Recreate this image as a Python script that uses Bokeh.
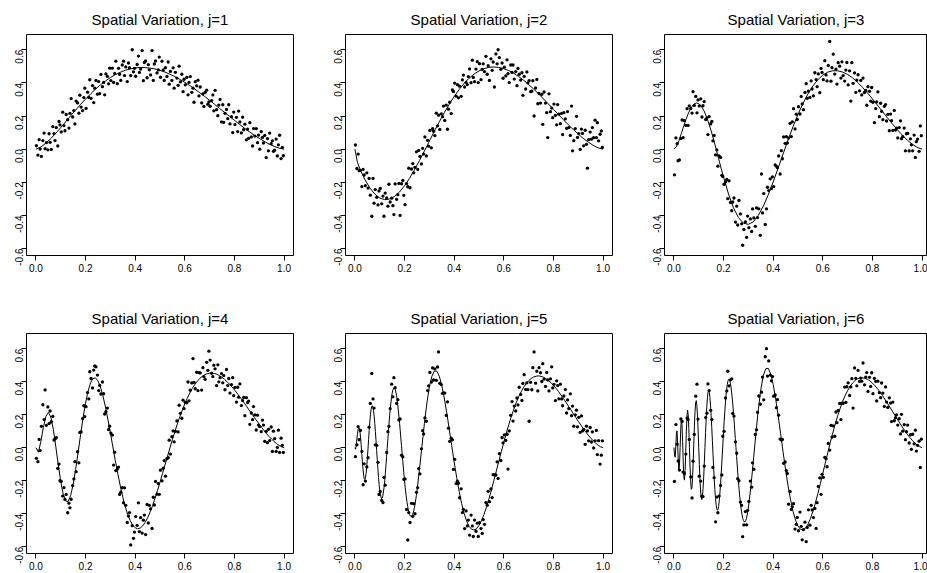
import math
from bokeh.plotting import figure
from bokeh.layouts import row, column
from bokeh.models import FixedTicker, PrintfTickFormatter, Range1d
from bokeh.embed import file_html
from bokeh.resources import INLINE

TITLES = ["Spatial Variation, j=1", "Spatial Variation, j=2", "Spatial Variation, j=3",
          "Spatial Variation, j=4", "Spatial Variation, j=5", "Spatial Variation, j=6"]
X_TICKS = [0.0, 0.2, 0.4, 0.6, 0.8, 1.0]
Y_TICKS = [-0.6, -0.4, -0.2, 0.0, 0.2, 0.4, 0.6]

# sample x positions (shared by all panels)
X_PTS = [0.002,0.008,0.013,0.017,0.022,0.028,0.033,0.037,0.042,0.048,
 0.053,0.057,0.062,0.068,0.073,0.077,0.082,0.088,0.093,0.097,
 0.102,0.108,0.113,0.117,0.122,0.128,0.133,0.137,0.142,0.148,
 0.153,0.157,0.162,0.168,0.173,0.177,0.182,0.188,0.193,0.197,
 0.202,0.208,0.213,0.217,0.222,0.228,0.233,0.237,0.242,0.248,
 0.253,0.257,0.262,0.268,0.273,0.277,0.282,0.288,0.293,0.297,
 0.302,0.308,0.313,0.317,0.322,0.328,0.333,0.337,0.342,0.348,
 0.353,0.357,0.362,0.368,0.373,0.377,0.382,0.388,0.393,0.397,
 0.402,0.408,0.413,0.417,0.422,0.428,0.433,0.437,0.442,0.448,
 0.453,0.457,0.462,0.468,0.473,0.477,0.482,0.488,0.493,0.497,
 0.502,0.508,0.513,0.517,0.522,0.528,0.533,0.537,0.542,0.548,
 0.553,0.557,0.562,0.568,0.573,0.577,0.582,0.588,0.593,0.597,
 0.602,0.608,0.613,0.617,0.622,0.628,0.633,0.637,0.642,0.648,
 0.653,0.657,0.662,0.668,0.673,0.677,0.682,0.688,0.693,0.697,
 0.702,0.708,0.713,0.717,0.722,0.728,0.733,0.737,0.742,0.748,
 0.753,0.757,0.762,0.768,0.773,0.777,0.782,0.788,0.793,0.797,
 0.802,0.808,0.813,0.817,0.822,0.828,0.833,0.837,0.842,0.848,
 0.853,0.857,0.862,0.868,0.873,0.877,0.882,0.888,0.893,0.897,
 0.902,0.908,0.913,0.917,0.922,0.928,0.933,0.937,0.942,0.948,
 0.953,0.957,0.962,0.968,0.973,0.977,0.982,0.988,0.993,0.997]

Y_J1 = [0.021,-0.036,0.057,0.001,-0.044,0.052,0.097,0.003,0.039,-0.004,
 0.093,0.041,-0.002,0.136,0.094,0.052,0.130,0.019,0.167,0.146,
 0.104,0.223,0.142,0.111,0.209,0.178,0.127,0.216,0.305,0.194,
 0.233,0.152,0.290,0.279,0.217,0.326,0.254,0.233,0.311,0.368,
 0.246,0.344,0.312,0.419,0.307,0.384,0.281,0.368,0.415,0.332,
 0.408,0.335,0.451,0.377,0.403,0.328,0.454,0.439,0.394,0.489,
 0.414,0.489,0.403,0.457,0.531,0.395,0.488,0.452,0.415,0.508,
 0.531,0.444,0.496,0.408,0.520,0.492,0.444,0.600,0.467,0.488,
 0.440,0.511,0.562,0.463,0.483,0.595,0.413,0.523,0.532,0.431,
 0.510,0.479,0.448,0.595,0.415,0.514,0.532,0.460,0.478,0.556,
 0.434,0.531,0.478,0.415,0.492,0.439,0.526,0.392,0.469,0.415,
 0.491,0.368,0.464,0.429,0.385,0.501,0.406,0.452,0.347,0.422,
 0.388,0.433,0.328,0.403,0.438,0.343,0.368,0.283,0.407,0.382,
 0.416,0.321,0.375,0.279,0.334,0.258,0.342,0.356,0.271,0.285,
 0.259,0.293,0.327,0.231,0.355,0.238,0.202,0.266,0.300,0.164,
 0.268,0.162,0.216,0.240,0.184,0.268,0.152,0.196,0.100,0.224,
 0.148,0.192,0.106,0.230,0.164,0.098,0.193,0.117,0.151,0.056,
 0.120,0.065,0.160,0.074,0.019,0.124,0.079,0.124,0.039,0.085,
 0.000,0.106,0.071,0.037,0.083,-0.051,0.064,-0.010,0.097,0.033,
 0.050,-0.013,-0.006,0.061,-0.041,0.026,0.084,-0.057,0.011,-0.040]

Y_J2 = [0.025,-0.117,-0.030,-0.130,-0.128,-0.226,-0.122,-0.156,-0.220,-0.143,
 -0.235,-0.177,-0.278,-0.405,-0.177,-0.326,-0.244,-0.291,-0.337,-0.252,
 -0.237,-0.330,-0.283,-0.405,-0.265,-0.295,-0.344,-0.212,-0.319,-0.296,
 -0.341,-0.395,-0.210,-0.303,-0.275,-0.207,-0.400,-0.209,-0.189,-0.279,
 -0.335,-0.208,-0.227,-0.115,-0.233,-0.120,-0.087,-0.143,-0.110,-0.016,
 -0.122,-0.008,-0.044,-0.089,0.005,-0.030,0.074,-0.041,0.053,0.018,
 0.113,0.008,0.123,0.108,0.082,0.217,0.141,0.205,0.119,0.213,
 0.196,0.260,0.173,0.266,0.120,0.241,0.283,0.215,0.357,0.348,
 0.399,0.320,0.390,0.310,0.380,0.319,0.418,0.447,0.375,0.403,
 0.390,0.438,0.484,0.401,0.537,0.433,0.408,0.483,0.528,0.402,
 0.516,0.419,0.482,0.515,0.468,0.560,0.452,0.504,0.415,0.545,
 0.476,0.526,0.375,0.575,0.515,0.600,0.553,0.482,0.520,0.428,
 0.495,0.442,0.539,0.456,0.402,0.508,0.463,0.508,0.423,0.468,
 0.383,0.487,0.452,0.417,0.461,0.325,0.439,0.363,0.466,0.400,
 0.414,0.347,0.350,0.413,0.200,0.369,0.421,0.274,0.336,0.278,
 0.331,0.150,0.345,0.278,0.220,0.070,0.334,0.226,0.248,0.190,
 0.272,0.204,0.147,0.269,0.211,0.154,0.216,0.088,0.220,0.183,
 0.125,0.227,0.130,0.083,0.260,-0.010,0.051,0.124,0.198,0.071,
 0.094,-0.002,0.121,0.095,0.020,0.114,0.029,-0.115,0.058,0.103,
 0.060,0.130,0.069,0.175,0.070,0.160,0.050,0.090,0.110,0.010]

Y_J3 = [-0.155,0.068,0.033,-0.070,-0.065,0.064,0.176,0.069,0.172,0.144,
 0.244,0.143,0.261,0.245,0.218,0.347,0.264,0.318,0.219,0.297,
 0.261,0.304,0.194,0.262,0.287,0.179,0.189,0.088,0.196,0.152,
 0.167,0.050,0.083,-0.035,-0.004,-0.103,-0.041,-0.050,-0.158,-0.165,
 -0.212,-0.198,-0.183,-0.299,-0.191,-0.322,-0.372,-0.319,-0.295,-0.440,
 -0.344,-0.458,-0.310,-0.391,-0.451,-0.580,-0.485,-0.439,-0.532,-0.404,
 -0.474,-0.421,-0.497,-0.361,-0.415,-0.466,-0.355,-0.413,-0.360,-0.520,
 -0.150,-0.385,-0.268,-0.455,-0.360,-0.230,-0.250,-0.179,-0.238,-0.167,
 -0.226,-0.095,-0.104,-0.112,-0.041,-0.150,-0.009,-0.058,0.074,0.035,
 0.076,0.037,0.067,0.156,0.076,0.165,0.244,0.122,0.211,0.179,
 0.256,0.212,0.318,0.273,0.238,0.342,0.395,0.307,0.350,0.312,
 0.412,0.363,0.322,0.461,0.420,0.377,0.454,0.341,0.487,0.463,
 0.419,0.534,0.448,0.412,0.505,0.650,0.410,0.492,0.573,0.453,
 0.483,0.393,0.522,0.501,0.429,0.527,0.444,0.411,0.477,0.523,
 0.388,0.473,0.290,0.522,0.397,0.460,0.343,0.416,0.449,0.352,
 0.415,0.327,0.429,0.342,0.354,0.265,0.377,0.349,0.290,0.372,
 0.283,0.160,0.245,0.285,0.346,0.196,0.277,0.228,0.178,0.259,
 0.269,0.170,0.210,0.111,0.212,0.172,0.113,0.234,0.115,0.126,
 0.068,0.130,0.171,0.063,0.075,0.127,-0.010,0.093,0.095,-0.011,
 0.062,0.026,-0.010,0.085,-0.050,0.045,0.061,-0.013,0.140,0.081]

Y_J4 = [-0.065,-0.085,0.050,-0.018,0.129,0.260,0.170,0.350,0.135,0.247,
 0.146,0.222,0.157,0.190,0.046,0.054,0.060,-0.126,-0.100,-0.201,
 -0.205,-0.294,-0.243,-0.314,-0.284,-0.395,-0.337,-0.365,-0.313,-0.230,
 -0.190,-0.085,-0.146,-0.025,-0.092,0.092,0.095,0.176,0.254,0.188,
 0.248,0.334,0.295,0.460,0.419,0.362,0.470,0.495,0.490,0.440,
 0.346,0.377,0.325,0.398,0.327,0.204,0.218,0.240,0.110,0.130,
 0.088,0.076,-0.106,-0.028,-0.139,-0.129,-0.118,-0.284,-0.270,-0.243,
 -0.335,-0.244,-0.350,-0.454,-0.415,-0.394,-0.590,-0.473,-0.550,-0.512,
 -0.418,-0.471,-0.335,-0.509,-0.425,-0.518,-0.440,-0.409,-0.527,-0.345,
 -0.457,-0.350,-0.371,-0.490,-0.301,-0.348,-0.205,-0.282,-0.218,-0.283,
 -0.137,-0.201,-0.125,-0.079,-0.173,-0.067,-0.061,0.045,-0.039,0.066,
 0.101,0.035,0.099,0.162,0.095,0.257,0.208,0.178,0.288,0.237,
 0.275,0.272,0.398,0.284,0.348,0.392,0.540,0.396,0.357,0.457,
 0.346,0.455,0.453,0.349,0.485,0.430,0.414,0.517,0.469,0.585,
 0.531,0.451,0.431,0.500,0.478,0.376,0.502,0.399,0.424,0.449,
 0.393,0.437,0.351,0.474,0.376,0.419,0.331,0.382,0.424,0.315,
 0.365,0.276,0.366,0.306,0.386,0.255,0.285,0.304,0.194,0.303,
 0.273,0.282,0.141,0.210,0.170,0.249,0.198,0.107,0.197,0.137,
 0.127,0.097,0.167,0.137,0.038,0.099,0.030,0.111,0.043,0.125,
 -0.023,0.100,0.054,-0.023,0.001,0.106,-0.029,0.057,0.014,-0.029]

Y_J5 = [-0.055,0.017,0.127,0.048,0.104,-0.023,-0.225,-0.098,-0.203,-0.117,
 -0.061,0.124,0.268,0.450,0.295,0.240,0.017,0.014,-0.089,-0.284,
 -0.266,-0.320,-0.333,-0.180,-0.228,-0.029,0.097,0.129,0.237,0.385,
 0.308,0.424,0.363,0.268,0.291,0.168,0.174,-0.046,-0.056,-0.192,
 -0.190,-0.375,-0.560,-0.394,-0.454,-0.338,-0.416,-0.340,-0.401,-0.271,
 -0.242,-0.127,-0.159,-0.007,0.103,0.083,0.180,0.160,0.346,0.375,
 0.456,0.398,0.483,0.410,0.478,0.408,0.489,0.580,0.390,0.382,
 0.329,0.332,0.331,0.195,0.278,0.118,0.038,0.057,0.047,-0.132,
 -0.071,-0.218,-0.204,-0.216,-0.304,-0.250,-0.394,-0.374,-0.491,-0.384,
 -0.475,-0.439,-0.530,-0.409,-0.475,-0.539,-0.439,-0.507,-0.458,-0.539,
 -0.455,-0.491,-0.520,-0.436,-0.465,-0.333,-0.349,-0.265,-0.328,-0.251,
 -0.303,-0.164,-0.165,-0.166,-0.086,-0.187,-0.037,-0.078,0.060,0.029,
 0.077,0.044,0.081,-0.130,0.101,0.196,0.279,0.161,0.252,0.222,
 0.301,0.259,0.366,0.322,0.286,0.389,0.442,0.353,0.393,0.352,
 0.160,0.396,0.351,0.485,0.580,0.391,0.463,0.344,0.485,0.454,
 0.401,0.509,0.415,0.371,0.456,0.410,0.344,0.417,0.490,0.362,
 0.384,0.285,0.405,0.376,0.296,0.385,0.295,0.254,0.313,0.352,
 0.210,0.289,0.237,0.326,0.194,0.252,0.130,0.199,0.227,0.126,
 0.184,0.093,0.192,0.101,0.111,0.020,0.130,0.101,0.041,0.122,
 0.034,0.096,-0.002,0.041,0.104,-0.042,0.042,-0.100,-0.046,0.041]

Y_J6 = [-0.205,0.140,0.021,-0.081,-0.136,0.174,0.159,-0.148,-0.157,-0.039,
 0.180,0.170,0.050,-0.178,-0.305,-0.082,0.080,0.312,0.385,0.173,
 -0.173,-0.203,-0.295,-0.297,-0.112,0.182,0.209,0.386,0.346,0.226,
 0.170,-0.120,-0.182,-0.450,-0.300,-0.395,-0.294,-0.229,-0.166,0.069,
 0.099,0.301,0.344,0.463,0.375,0.411,0.417,0.208,0.191,0.035,
 -0.034,-0.188,-0.201,-0.330,-0.350,-0.540,-0.469,-0.388,-0.468,-0.380,
 -0.326,-0.203,-0.240,-0.092,-0.131,0.080,0.109,0.214,0.313,0.263,
 0.336,0.428,0.290,0.551,0.600,0.434,0.526,0.440,0.405,0.431,
 0.312,0.319,0.242,0.291,0.197,0.052,0.046,0.050,-0.095,-0.087,
 -0.139,-0.157,-0.343,-0.266,-0.375,-0.359,-0.340,-0.494,-0.465,-0.423,
 -0.504,-0.391,-0.477,-0.559,-0.497,-0.452,-0.570,-0.484,-0.377,-0.470,
 -0.350,-0.378,-0.424,-0.369,-0.490,-0.334,-0.235,-0.184,-0.283,-0.162,
 -0.180,-0.059,-0.067,-0.116,0.025,-0.015,0.135,0.064,0.132,0.069,
 0.216,0.151,0.225,0.268,0.170,0.270,0.269,0.367,0.274,0.369,
 0.393,0.316,0.368,0.418,0.240,0.483,0.420,0.375,0.469,0.401,
 0.422,0.403,0.513,0.381,0.428,0.455,0.341,0.426,0.371,0.454,
 0.327,0.420,0.402,0.283,0.403,0.333,0.303,0.392,0.331,0.250,
 0.368,0.276,0.244,0.302,0.270,0.158,0.276,0.163,0.181,0.199,
 0.137,0.175,0.083,0.202,0.100,0.139,0.048,0.097,0.137,0.028,
 0.078,-0.010,0.081,0.023,0.106,-0.021,0.014,0.039,-0.120,0.051]

# true curves
C1_X = [0.00,0.02,0.04,0.06,0.08,0.10,0.12,0.14,0.16,0.18,0.20,0.22,0.24,0.26,0.28,0.30,0.32,0.34,0.36,0.38,
 0.40,0.42,0.44,0.46,0.48,0.50,0.52,0.54,0.56,0.58,0.60,0.62,0.64,0.66,0.68,0.70,0.72,0.74,0.76,0.78,
 0.80,0.82,0.84,0.86,0.88,0.90,0.92,0.94,0.96,0.98,1.00]
C1_Y = [0.000,0.013,0.036,0.064,0.096,0.130,0.165,0.201,0.236,0.270,0.302,0.333,0.362,0.388,0.411,0.432,0.450,0.464,0.476,0.484,
 0.490,0.493,0.492,0.489,0.484,0.476,0.465,0.452,0.438,0.421,0.403,0.384,0.363,0.341,0.318,0.295,0.271,0.246,0.222,0.198,
 0.174,0.150,0.127,0.105,0.084,0.065,0.047,0.030,0.017,0.006,0.000]

C2_X = [0.00,0.01,0.02,0.04,0.06,0.08,0.10,0.12,0.14,0.16,0.18,0.20,0.22,0.24,0.26,0.28,0.30,0.32,0.34,0.36,0.38,
 0.40,0.42,0.44,0.46,0.48,0.50,0.52,0.54,0.56,0.58,0.60,0.62,0.64,0.66,0.68,0.70,0.72,0.74,0.76,0.78,
 0.80,0.82,0.84,0.86,0.88,0.90,0.92,0.94,0.96,0.98,1.00]
C2_Y = [0.000,-0.079,-0.119,-0.183,-0.234,-0.271,-0.295,-0.305,-0.301,-0.285,-0.258,-0.221,-0.176,-0.125,-0.069,-0.011,0.048,0.108,0.165,0.220,0.271,
 0.318,0.360,0.397,0.428,0.453,0.472,0.486,0.494,0.496,0.493,0.486,0.474,0.458,0.438,0.416,0.390,0.363,0.334,0.303,0.272,
 0.240,0.209,0.178,0.147,0.118,0.091,0.065,0.043,0.023,0.008,0.000]

C3_X = [0.00,0.01,0.02,0.03,0.04,0.05,0.06,0.07,0.08,0.09,0.10,0.11,0.12,0.13,0.14,0.15,0.16,0.17,0.18,0.19,0.20,
 0.22,0.24,0.26,0.28,0.30,0.32,0.34,0.36,0.38,0.40,0.42,0.44,0.46,0.48,0.50,0.52,0.54,0.56,0.58,0.60,
 0.62,0.64,0.66,0.68,0.70,0.72,0.74,0.76,0.78,0.80,0.82,0.84,0.86,0.88,0.90,0.92,0.94,0.96,0.98,1.00]
C3_Y = [0.000,0.014,0.050,0.095,0.141,0.185,0.223,0.252,0.271,0.279,0.275,0.260,0.235,0.200,0.158,0.110,0.057,0.001,-0.057,-0.114,-0.169,
 -0.271,-0.354,-0.413,-0.447,-0.454,-0.438,-0.400,-0.345,-0.276,-0.198,-0.114,-0.029,0.056,0.136,0.210,0.276,0.333,0.381,0.419,0.447,
 0.465,0.473,0.473,0.465,0.451,0.430,0.403,0.373,0.339,0.303,0.266,0.228,0.190,0.153,0.118,0.085,0.055,0.030,0.011,0.000]

C4_X = [0.00,0.01,0.02,0.03,0.04,0.05,0.06,0.07,0.08,0.09,0.10,0.11,0.12,0.13,0.14,0.15,0.16,0.17,0.18,0.19,
 0.20,0.21,0.22,0.23,0.24,0.25,0.26,0.27,0.28,0.29,0.30,0.31,0.32,0.33,0.34,0.35,0.36,0.37,0.38,0.39,
 0.40,0.41,0.42,0.43,0.44,0.45,0.46,0.47,0.48,0.49,0.50,0.51,0.52,0.53,0.54,0.55,0.56,0.57,0.58,0.59,
 0.60,0.61,0.62,0.63,0.64,0.65,0.66,0.67,0.68,0.69,0.70,0.71,0.72,0.73,0.74,0.75,0.76,0.77,0.78,0.79,
 0.80,0.81,0.82,0.83,0.84,0.85,0.86,0.87,0.88,0.89,0.90,0.91,0.92,0.93,0.94,0.95,0.96,0.97,0.98,0.99,1.00]
C4_Y = [0.000,-0.028,0.038,0.123,0.189,0.213,0.185,0.111,0.008,-0.104,
 -0.206,-0.283,-0.324,-0.326,-0.290,-0.223,-0.132,-0.029,0.079,0.181,
 0.270,0.342,0.392,0.419,0.423,0.405,0.368,0.314,0.247,0.171,
 0.089,0.005,-0.079,-0.159,-0.233,-0.300,-0.358,-0.406,-0.443,-0.470,
 -0.486,-0.492,-0.488,-0.475,-0.454,-0.426,-0.391,-0.352,-0.307,-0.260,
 -0.210,-0.158,-0.106,-0.054,-0.002,0.049,0.097,0.144,0.188,0.228,
 0.266,0.300,0.331,0.359,0.382,0.402,0.419,0.432,0.442,0.448,
 0.451,0.451,0.449,0.444,0.436,0.426,0.414,0.400,0.385,0.368,
 0.350,0.331,0.311,0.290,0.269,0.248,0.226,0.205,0.183,0.162,
 0.142,0.122,0.102,0.084,0.067,0.051,0.037,0.024,0.013,0.005,0.000]

C5_X = [0.0,0.0025,0.005,0.0075,0.01,0.0125,0.015,0.0175,0.02,0.0225,0.025,0.0275,0.03,0.0325,0.035,0.0375,0.04,0.0425,0.045,0.0475,
 0.05,0.0525,0.055,0.0575,0.06,0.0625,0.065,0.0675,0.07,0.0725,0.075,0.0775,0.08,0.0825,0.085,0.0875,0.09,0.0925,0.095,0.0975,
 0.10,0.1025,0.1075,0.11,0.1125,0.1175,0.12,0.1225,0.1275,0.13,0.1325,0.1375,0.14,0.1425,0.1475,0.15,0.1525,0.1575,0.16,0.1625,
 0.1675,0.17,0.1725,0.1775,0.18,0.1825,0.1875,0.19,0.1925,0.1975,0.20,0.2025,0.2075,0.21,0.2125,0.2175,0.22,0.2225,0.2275,0.23,
 0.2325,0.2375,0.24,0.2425,0.2475,0.25,
 0.26,0.27,0.28,0.29,0.30,0.31,0.32,0.33,0.34,0.35,0.36,0.37,0.38,0.39,
 0.40,0.41,0.42,0.43,0.44,0.45,0.46,0.47,0.48,0.49,0.50,0.51,0.52,0.53,0.54,0.55,0.56,0.57,0.58,0.59,
 0.60,0.61,0.62,0.63,0.64,0.65,0.66,0.67,0.68,0.69,0.70,0.71,0.72,0.73,0.74,0.75,0.76,0.77,0.78,0.79,
 0.80,0.81,0.82,0.83,0.84,0.85,0.86,0.87,0.88,0.89,0.90,0.91,0.92,0.93,0.94,0.95,0.96,0.97,0.98,0.99,1.00]
C5_Y = [0.000,-0.010,0.013,0.047,0.081,0.107,0.121,0.118,0.099,0.064,0.019,-0.033,-0.084,-0.130,-0.166,-0.188,-0.194,-0.183,-0.157,-0.117,
 -0.067,-0.011,0.048,0.104,0.156,0.199,0.230,0.249,0.254,0.245,0.224,0.190,0.147,0.097,0.042,-0.016,-0.074,-0.129,-0.180,-0.224,
 -0.259,-0.286,-0.310,-0.306,-0.293,-0.240,-0.202,-0.158,-0.059,-0.006,0.047,0.149,0.195,0.237,0.305,0.330,0.348,0.364,0.362,0.353,
 0.318,0.292,0.261,0.188,0.147,0.104,0.014,-0.031,-0.076,-0.162,-0.202,-0.240,-0.305,-0.333,-0.357,-0.394,-0.406,-0.414,-0.418,-0.414,
 -0.406,-0.380,-0.362,-0.341,-0.291,-0.263,
 -0.134,0.008,0.147,0.270,0.367,0.432,0.465,0.464,0.433,0.377,0.301,0.212,0.113,0.012,
 -0.087,-0.181,-0.265,-0.339,-0.399,-0.445,-0.477,-0.495,-0.499,-0.492,-0.472,-0.443,-0.406,-0.361,-0.311,-0.257,-0.200,-0.141,-0.082,-0.024,
 0.033,0.088,0.139,0.188,0.232,0.272,0.308,0.339,0.366,0.388,0.406,0.419,0.428,0.433,0.435,0.432,0.427,0.418,0.407,0.394,
 0.378,0.360,0.341,0.320,0.298,0.276,0.253,0.230,0.206,0.183,0.160,0.138,0.116,0.095,0.076,0.058,0.042,0.027,0.015,0.005,0.000]

C6_X = [0.0,0.0025,0.005,0.0075,0.01,0.0125,0.015,0.0175,0.02,0.0225,0.025,0.0275,0.03,0.0325,0.035,0.0375,0.04,0.0425,0.045,0.0475,0.05,
 0.0525,0.055,0.0575,0.06,0.0625,0.065,0.0675,0.07,0.0725,0.075,0.0775,0.08,0.0825,0.085,0.0875,0.09,0.0925,0.095,0.0975,0.10,
 0.1025,0.105,0.1075,0.11,0.1125,0.115,0.1175,0.12,0.1225,0.125,0.1275,0.13,0.1325,0.135,0.1375,0.14,0.1425,0.145,0.1475,0.15,
 0.1525,0.155,0.1575,0.16,0.1625,0.165,0.1675,0.17,0.1725,0.175,0.1775,0.18,0.1825,0.185,0.1875,0.19,0.1925,0.195,0.1975,0.20,
 0.2025,0.205,0.2075,0.21,0.2125,0.215,0.2175,0.22,0.2225,0.225,0.2275,0.23,0.2325,0.235,0.2375,0.24,0.2425,0.245,0.2475,0.25,
 0.2525,0.2575,0.26,0.2625,0.2675,0.27,0.2725,0.2775,0.28,0.2825,0.2875,0.29,0.2925,0.2975,0.30,
 0.31,0.32,0.33,0.34,0.35,0.36,0.37,0.38,0.39,
 0.40,0.41,0.42,0.43,0.44,0.45,0.46,0.47,0.48,0.49,0.50,0.51,0.52,0.53,0.54,0.55,0.56,0.57,0.58,0.59,
 0.60,0.61,0.62,0.63,0.64,0.65,0.66,0.67,0.68,0.69,0.70,0.71,0.72,0.73,0.74,0.75,0.76,0.77,0.78,0.79,
 0.80,0.81,0.82,0.83,0.84,0.85,0.86,0.87,0.88,0.89,0.90,0.91,0.92,0.93,0.94,0.95,0.96,0.97,0.98,0.99,1.00]
C6_Y = [0.000,-0.045,-0.058,0.005,0.086,0.101,0.027,-0.081,-0.140,-0.106,0.000,0.114,0.170,0.139,0.036,-0.088,-0.178,-0.197,-0.140,-0.029,0.095,
 0.190,0.228,0.200,0.116,0.000,-0.117,-0.208,-0.253,-0.245,-0.186,-0.092,0.021,0.130,0.218,0.272,0.285,0.256,0.192,0.103,0.000,
 -0.103,-0.194,-0.263,-0.304,-0.315,-0.295,-0.247,-0.177,-0.092,0.000,0.092,0.177,0.249,0.303,0.336,0.347,0.336,0.305,0.256,0.193,
 0.120,0.041,-0.040,-0.119,-0.192,-0.255,-0.307,-0.346,-0.370,-0.380,-0.375,-0.356,-0.324,-0.281,-0.229,-0.170,-0.106,-0.039,0.029,0.096,
 0.159,0.218,0.271,0.317,0.354,0.383,0.403,0.413,0.415,0.407,0.391,0.367,0.337,0.300,0.258,0.211,0.161,0.108,0.055,0.000,
 -0.054,-0.158,-0.206,-0.251,-0.330,-0.362,-0.390,-0.430,-0.442,-0.449,-0.448,-0.440,-0.428,-0.390,-0.366,
 -0.239,-0.082,0.081,0.230,0.351,0.435,0.478,0.481,0.447,
 0.383,0.296,0.194,0.084,-0.028,-0.134,-0.232,-0.316,-0.386,-0.439,-0.476,-0.495,-0.499,-0.489,-0.465,-0.431,-0.387,-0.336,-0.279,-0.219,
 -0.156,-0.093,-0.031,0.030,0.088,0.143,0.193,0.239,0.280,0.316,0.346,0.372,0.392,0.407,0.417,0.422,0.423,0.420,0.414,0.404,
 0.391,0.376,0.358,0.338,0.317,0.294,0.270,0.246,0.222,0.197,0.173,0.149,0.126,0.103,0.082,0.063,0.045,0.029,0.016,0.006,0.000]

PTS_Y = [Y_J1, Y_J2, Y_J3, Y_J4, Y_J5, Y_J6]
CURVES = [(C1_X, C1_Y), (C2_X, C2_Y), (C3_X, C3_Y), (C4_X, C4_Y), (C5_X, C5_Y), (C6_X, C6_Y)]

FONT = "Liberation Sans"
COL_W = [315, 319, 293]
COL_L = [26, 30, 30]
COL_R = [22, 22, 0]
ROW_H = [285, 288]
ROW_T = [34, 48]
ROW_B = [30, 20]
X_START = -0.038
X_END = 1.038
Y_START = -0.642
Y_END = 0.692
PX_PER_UNIT = 267 / (X_END - X_START)


def make_panel(i):
    r, c = divmod(i, 3)
    frame_w = COL_W[c] - COL_L[c] - COL_R[c]
    x_end = X_START + frame_w / PX_PER_UNIT
    p = figure(width=COL_W[c], height=ROW_H[r], output_backend="svg", toolbar_location=None,
               x_range=Range1d(X_START, x_end), y_range=Range1d(Y_START, Y_END),
               min_border_left=COL_L[c], min_border_right=COL_R[c],
               min_border_top=ROW_T[r], min_border_bottom=ROW_B[r],
               title=TITLES[i])
    p.title.text_font = FONT
    p.title.text_font_size = "15px"
    p.title.text_font_style = "normal"
    p.title.text_color = "black"
    p.title.align = "center"
    p.title.standoff = 14
    p.xgrid.grid_line_color = None
    p.ygrid.grid_line_color = None
    p.outline_line_color = "black"
    p.outline_line_width = 1
    p.outline_line_alpha = 1.0
    p.background_fill_color = "white"
    p.border_fill_color = "white"
    for ax, ticks in ((p.xaxis[0], X_TICKS), (p.yaxis[0], Y_TICKS)):
        ax.ticker = FixedTicker(ticks=ticks)
        ax.formatter = PrintfTickFormatter(format="%.1f")
        ax.axis_line_color = None
        ax.major_tick_in = 0
        ax.major_tick_out = 5
        ax.minor_tick_in = 0
        ax.minor_tick_out = 0
        ax.major_tick_line_color = "black"
        ax.major_label_text_font = FONT
        ax.major_label_text_font_size = "10px"
        ax.major_label_text_color = "black"
    p.xaxis[0].major_label_standoff = 3
    p.yaxis[0].major_label_standoff = 2
    p.yaxis[0].major_label_orientation = math.pi / 2
    cx, cy = CURVES[i]
    p.line(cx, cy, line_color="black", line_width=1)
    p.scatter(X_PTS, PTS_Y[i], marker="circle", size=3.3, fill_color="black", line_color=None)
    return p


panels = [make_panel(i) for i in range(6)]
layout = column(row(*panels[:3]), row(*panels[3:]))
open("out.html", "w").write(file_html(layout, INLINE))
